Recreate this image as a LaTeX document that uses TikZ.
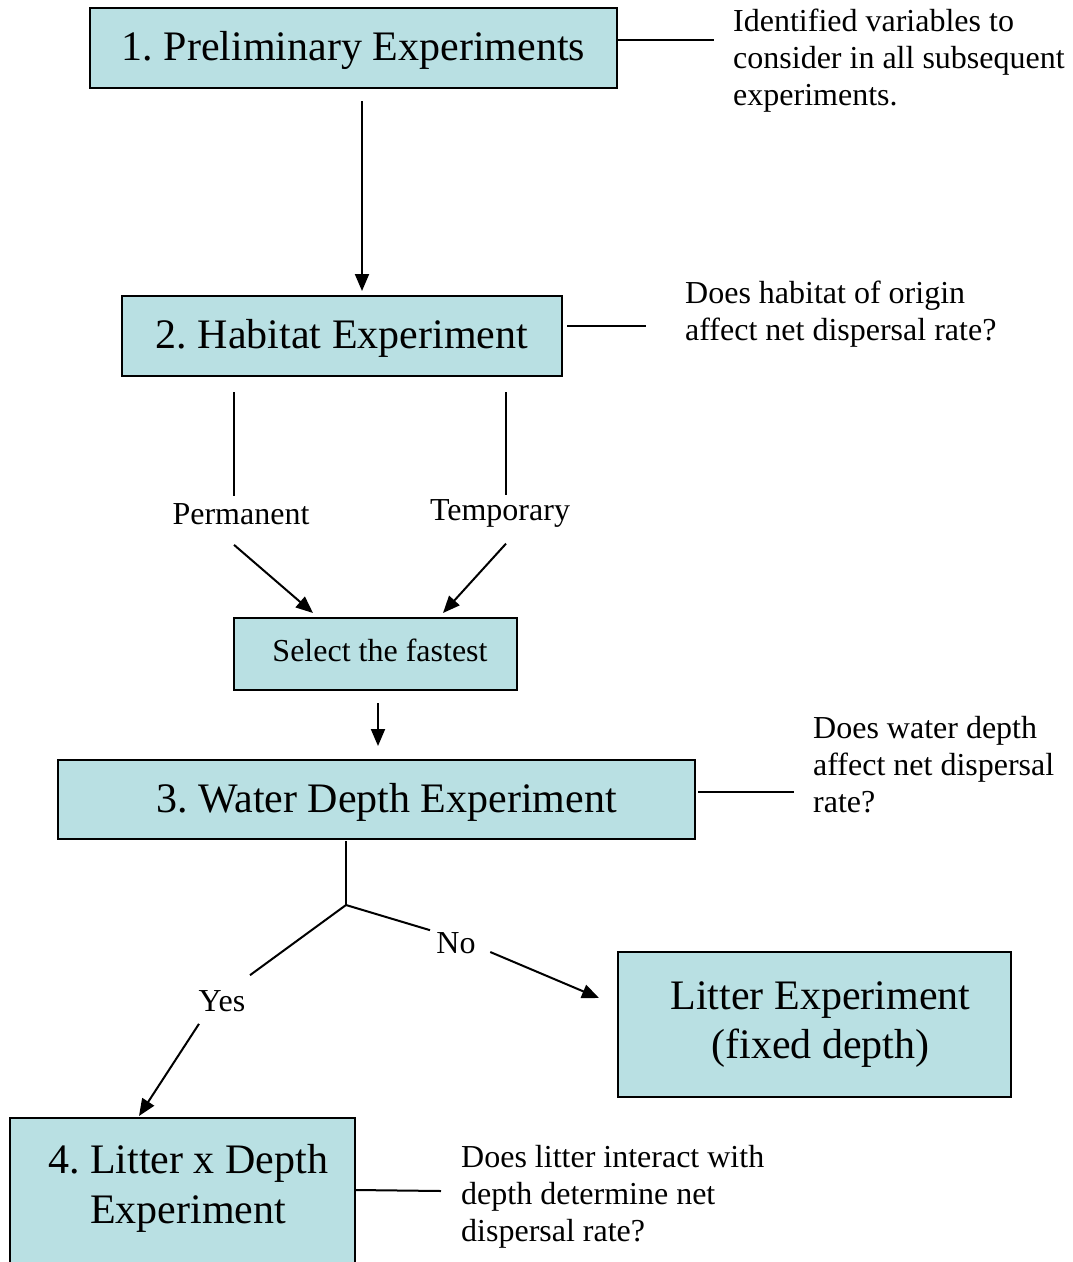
\documentclass[tikz,border=0pt]{standalone}
\usepackage{fontspec}
\setmainfont{Liberation Serif}
\usetikzlibrary{arrows.meta,calc}
\definecolor{boxfill}{HTML}{B9E0E3}
\begin{document}
\frenchspacing
\begin{tikzpicture}[x=1pt,y=-1pt,
  box/.style={draw=black,line width=2pt,fill=boxfill,rectangle,inner sep=0pt,align=center,font=\fontsize{42}{49}\selectfont},
  onebox/.style={box,text height=29pt,text depth=3.4pt},
  smallbox/.style={box,font=\fontsize{32}{37}\selectfont,text height=22pt,text depth=6.2pt},
  side/.style={inner sep=0pt,anchor=north west,align=left,font=\fontsize{32}{37}\selectfont},
  lab/.style={inner sep=0pt,font=\fontsize{32}{37}\selectfont},
  conn/.style={line width=2pt},
  arr/.style={line width=2pt,-{Triangle[length=17pt,width=14pt]}}]
\useasboundingbox (0,0) rectangle (1072,1262);
% boxes
\node[onebox,minimum width=527pt,minimum height=80pt] (box1) at (353.5,48) {1. Preliminary Experiments};
\node[onebox,minimum width=440pt,minimum height=80pt] (box2) at (342,336) {2. Habitat Experiment};
\node[smallbox,minimum width=283pt,minimum height=72pt] (sel) at (375.5,654) {\hspace*{9pt}Select the fastest};
\node[onebox,minimum width=637pt,minimum height=79pt] (box3) at (376.5,799.5) {\hspace*{20pt}3. Water Depth Experiment};
\node[box,minimum width=393pt,minimum height=145pt] (litter) at (814.5,1024.5) {\hspace*{12pt}Litter Experiment\\\hspace*{12pt}(fixed depth)};
\node[box,minimum width=345pt,minimum height=170pt] (box4) at (182.5,1203) {};
\node[inner sep=0pt,align=center,font=\fontsize{42}{50}\selectfont] (box4text) at (188,1188) {4. Litter x Depth\\Experiment};
% side texts
\node[side] (t1) at (733,9) {Identified variables to\\consider in all subsequent\\experiments.};
\node[side] (t2) at (685,281) {Does habitat of origin\\affect net dispersal rate?};
\node[side] (t3) at (813,716) {Does water depth\\affect net dispersal\\rate?};
\node[side] (t4) at (461,1145) {Does litter interact with\\depth determine net\\dispersal rate?};
% labels
\node[lab] (perm) at (241,514) {Permanent};
\node[lab] (temp) at (500,513) {Temporary};
\node[lab] (no) at (456,943) {No};
\node[lab] (yes) at (222,1001) {Yes};
% side connectors
\draw[conn] ($(box1.east)+(0,-8)$) -- ($(t1.north west)+(-19,31)$);
\draw[conn] ($(box2.east)+(4,-10)$) -- ($(t2.north west)+(-39,45)$);
\draw[conn] ($(box3.east)+(2,-7.5)$) -- ($(t3.north west)+(-19,76)$);
\draw[conn] ($(box4.north east)+(0,73)$) -- ($(t4.north west)+(-20,46)$);
% main flow
\draw[arr] ($(box1.south)+(8.5,12)$) -- ($(box2.north)+(20,-4)$);
\draw[conn] ($(box2.south)+(-108,15)$) -- ($(perm.north)+(-7,-7)$);
\draw[conn] ($(box2.south)+(164,15)$) -- ($(temp.north)+(6,-4)$);
\draw[arr] ($(perm.south)+(-7,20)$) -- ($(sel.north)+(-62.5,-4)$);
\draw[arr] ($(temp.south)+(6,16.5)$) -- ($(sel.north)+(67.5,-4)$);
\draw[arr] ($(sel.south)+(2.5,12)$) -- ($(box3.north)+(1.5,-13)$);
\coordinate (fork) at ($(box3.south)+(-30.5,65)$);
\draw[conn] ($(box3.south)+(-30.5,1)$) -- (fork);
\draw[conn] (fork) -- ($(yes.north)+(28,-15)$);
\draw[conn] (fork) -- ($(no.north)+(-26,-2)$);
\draw[arr] ($(no.east)+(14.5,9)$) -- ($(litter.west)+(-18,-26.5)$);
\draw[arr] ($(yes.south)+(-23,12)$) -- ($(box4.north west)+(130,-1)$);
\end{tikzpicture}
\end{document}
